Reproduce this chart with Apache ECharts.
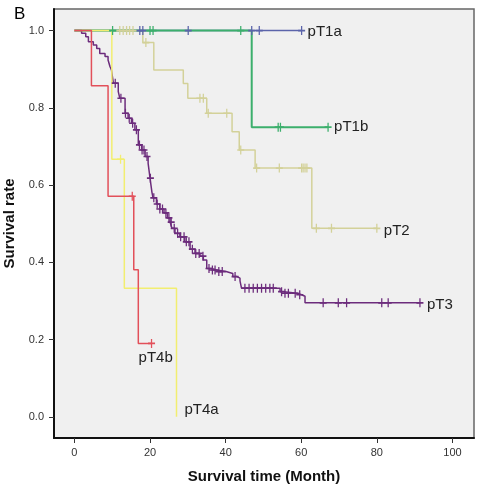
<!DOCTYPE html>
<html>
<head>
<meta charset="utf-8">
<script src="https://cdn.jsdelivr.net/npm/echarts@6/dist/echarts.min.js"></script>
<style>html,body{margin:0;padding:0;background:#fff;}#c{width:488px;height:493px;}</style>
</head>
<body>
<div id="c"></div>
<script>
// ---- data ----
const xTicks = [0, 20, 40, 60, 80, 100];
const yTicks = [0, 0.2, 0.4, 0.6, 0.8, 1.0];
const groupNames = ['pT1a', 'pT2', 'pT1b', 'pT3', 'pT4a', 'pT4b'];

// [time (month), survival rate after the step]
const pT1aSteps = [[0, 1.0], [60.1, 1.0]];
const pT1aCensor = [17.3, 18.1, 30.1, 46.9, 48.9, 60.1];

const pT1bSteps = [[0, 1.0], [46.9, 0.75], [67.1, 0.75]];
const pT1bCensor = [10.1, 20.0, 20.8, 44.0, 53.9, 54.5, 67.1];

const pT2Steps = [[0, 1.0], [18.1, 0.969], [21.0, 0.898], [28.8, 0.863], [30.0, 0.825], [35.0, 0.786],
  [41.7, 0.738], [43.6, 0.691], [47.8, 0.644], [62.8, 0.488], [80.0, 0.488]];
const pT2Censor = [12.0, 12.9, 13.8, 14.6, 15.5, 18.9, 33.2, 34.1, 35.4, 40.3, 44.0, 48.2, 54.2,
  60.1, 60.5, 61.0, 61.5, 64.0, 68.0, 80.0];

const pT3Steps = [[0, 1.0], [1.9, 0.993], [3.0, 0.984], [3.7, 0.971], [5.0, 0.963], [5.9, 0.954],
  [6.7, 0.941], [8.1, 0.933], [8.9, 0.924], [9.4, 0.907], [9.8, 0.898], [10.3, 0.864], [11.6, 0.842],
  [12.0, 0.825], [13.4, 0.786], [14.2, 0.773], [15.1, 0.760], [16.0, 0.743], [16.9, 0.704],
  [17.8, 0.691], [18.7, 0.674], [19.5, 0.656], [20.0, 0.618], [20.5, 0.582], [20.8, 0.567],
  [21.7, 0.551], [22.6, 0.538], [23.7, 0.528], [24.6, 0.515], [25.3, 0.504], [25.8, 0.488],
  [26.6, 0.475], [27.9, 0.466], [29.2, 0.453], [30.6, 0.434], [31.9, 0.423], [33.2, 0.416],
  [34.1, 0.406], [35.0, 0.384], [36.3, 0.380], [37.6, 0.376], [40.1, 0.371], [41.9, 0.363],
  [43.0, 0.359], [43.8, 0.352], [44.2, 0.333], [54.4, 0.324], [55.4, 0.320], [58.9, 0.316],
  [60.1, 0.312], [61.0, 0.295], [91.4, 0.295]];
const pT3Censor = [10.8, 12.3, 13.5, 14.5, 15.4, 16.4, 17.2, 17.9, 18.4, 19.2, 20.1, 21.0, 21.9,
  22.6, 23.3, 24.2, 25.0, 25.6, 26.4, 27.3, 28.1, 29.0, 29.6, 30.3, 31.2, 32.1, 33.0, 34.0, 35.6,
  36.5, 37.2, 38.2, 39.1, 42.5, 45.1, 46.2, 47.3, 48.4, 49.5, 50.6, 51.7, 52.6, 54.8, 55.7, 56.6,
  58.4, 59.6, 65.8, 69.8, 72.0, 81.3, 83.0, 91.4];

const pT4aSteps = [[0, 1.0], [9.9, 0.667], [13.2, 0.333], [27.0, 0.0]];
const pT4aCensor = [12.2];

const pT4bSteps = [[0, 1.0], [4.5, 0.857], [8.9, 0.571], [15.7, 0.381], [16.9, 0.190], [20.4, 0.190]];
const pT4bCensor = [15.3, 20.4];

// ---- styling ----
const colors = {
  pT1a: '#5b64aa', pT1b: '#3caf6c', pT2: '#d3d199', pT3: '#6c2c7c', pT4a: '#f2ee70', pT4b: '#e2505a'
};
const widths = { pT1a: 1.5, pT1b: 2, pT2: 1.5, pT3: 1.5, pT4a: 1.5, pT4b: 1.5 };
const labelOffsets = {
  pT1a: [-2, 1], pT1b: [-2, 0], pT2: [-1, 3], pT3: [-1, 2], pT4a: [0, -7], pT4b: [-21, 14]
};
const stepsBy = { pT1a: pT1aSteps, pT1b: pT1bSteps, pT2: pT2Steps, pT3: pT3Steps, pT4a: pT4aSteps, pT4b: pT4bSteps };
const censorBy = { pT1a: pT1aCensor, pT1b: pT1bCensor, pT2: pT2Censor, pT3: pT3Censor, pT4a: pT4aCensor, pT4b: pT4bCensor };

function survAt(steps, t) {
  let r = steps[0][1];
  for (const s of steps) { if (s[0] <= t + 1e-9) r = s[1]; }
  return r;
}

const FONT = "'Liberation Sans', Arial, sans-serif";
const plus = 'path://M4.1,0H5.9V10H4.1Z M0,4.1H10V5.9H0Z';

const series = [];
groupNames.forEach((g, i) => {
  series.push({
    name: g, type: 'line', step: 'end', data: stepsBy[g], showSymbol: false, symbol: 'none',
    z: 2 + i,
    lineStyle: { color: colors[g], width: widths[g] },
    itemStyle: { color: colors[g] },
    endLabel: {
      show: true, formatter: g, color: '#222', fontSize: 15, fontFamily: FONT,
      offset: labelOffsets[g]
    },
    emphasis: { disabled: true }, silent: true
  });
});
groupNames.forEach((g, i) => {
  series.push({
    name: g + ' censored', type: 'scatter',
    data: censorBy[g].map(t => [t, survAt(stepsBy[g], t)]),
    symbol: plus, symbolSize: [7, 9], z: 10 + i,
    itemStyle: { color: colors[g], opacity: 1 },
    emphasis: { disabled: true }, silent: true
  });
});

const chart = echarts.init(document.getElementById('c'), null, { renderer: 'canvas' });
chart.setOption({
  animation: false,
  backgroundColor: '#ffffff',
  title: {
    text: 'B', left: 9, top: 1,
    textStyle: { fontSize: 17, fontWeight: 'normal', color: '#000', fontFamily: FONT }
  },
  grid: {
    left: 54, right: 14, top: 9, bottom: 55, show: true, containLabel: false, outerBoundsMode: 'none',
    backgroundColor: '#f0f0f0', borderColor: '#666', borderWidth: 1.5
  },
  xAxis: {
    type: 'value', min: -5.4, max: 105.7,
    name: 'Survival time (Month)', nameLocation: 'middle', nameGap: 31,
    nameTextStyle: { fontSize: 15, fontWeight: 'bold', color: '#111', fontFamily: FONT },
    axisLine: { show: true, onZero: false, lineStyle: { color: '#111', width: 2 } },
    axisTick: { show: true, customValues: xTicks, length: 5, lineStyle: { color: '#333', width: 1 } },
    axisLabel: { customValues: xTicks, margin: 9, fontSize: 11, color: '#333', fontFamily: FONT },
    splitLine: { show: false }
  },
  yAxis: {
    type: 'value', min: -0.055, max: 1.056,
    name: 'Survival rate', nameLocation: 'middle', nameGap: 33,
    nameTextStyle: { fontSize: 15, fontWeight: 'bold', color: '#111', fontFamily: FONT },
    axisLine: { show: true, onZero: false, lineStyle: { color: '#111', width: 2 } },
    axisTick: { show: true, customValues: yTicks, length: 5, lineStyle: { color: '#333', width: 1 } },
    axisLabel: {
      customValues: yTicks, margin: 10, fontSize: 11, color: '#333', fontFamily: FONT,
      formatter: v => v.toFixed(1)
    },
    splitLine: { show: false }
  },
  series: series
});
</script>
</body>
</html>
